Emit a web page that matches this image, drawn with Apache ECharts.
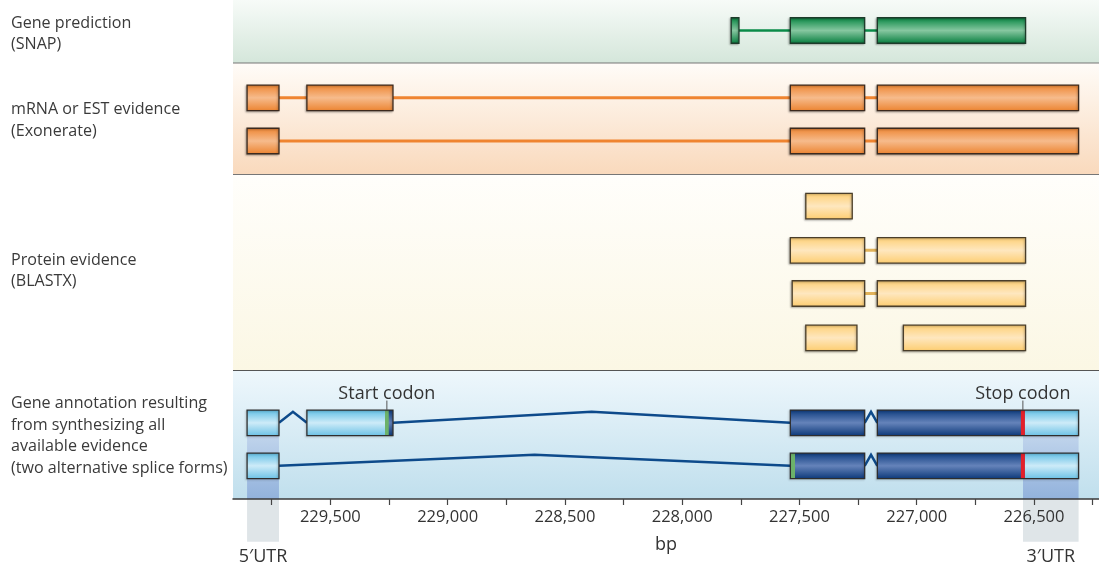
<!DOCTYPE html>
<html>
<head>
<meta charset="utf-8">
<script src="https://cdn.jsdelivr.net/npm/echarts@6/dist/echarts.min.js"></script>
<style>
html,body{margin:0;padding:0;background:#fff;}
#chart{width:1099px;height:567px;}
</style>
</head>
<body>
<div id="chart"></div>
<script>
// ---------------- DATA (bp coordinates, genome runs right-to-left) ----------------
const trackLabels = [
  'Gene prediction\n(SNAP)',
  'mRNA or EST evidence\n(Exonerate)',
  'Protein evidence\n(BLASTX)',
  'Gene annotation resulting\nfrom synthesizing all\navailable evidence\n(two alternative splice forms)'
];
// exons as [start, end] in bp
const snapExons = [[227791, 227758], [227539, 227222], [227168, 226536]];
const mrnaExons1 = [[229855, 229719], [229600, 229233], [227539, 227222], [227168, 226310]];
const mrnaExons2 = [[229855, 229719], [227539, 227222], [227168, 226310]];
const proteinHits1 = [[227473, 227275]];
const proteinHits2 = [[227539, 227222], [227168, 226536]];
const proteinHits3 = [[227531, 227222], [227168, 226536]];
const proteinHits4 = [[227473, 227255], [227057, 226536]];
const proteinLinked = [false, true, true, false];
const annotForm1 = [[229855, 229719], [229600, 229233], [227539, 227222], [227168, 226310]];
const annotForm2 = [[229855, 229719], [227539, 227222], [227168, 226310]];
const startCodons = [[229267, 229251], [227539, 227519]];
const stopCodon = [226556, 226539];
const codonLabels = ['Start codon', 'Stop codon'];
const utrRegions = [[229855, 229719], [226547, 226310]];
const utrLabels = ['5\u2032UTR', '3\u2032UTR'];
const xTickValues = [229750, 229500, 229250, 229000, 228750, 228500, 228250, 228000,
                     227750, 227500, 227250, 227000, 226750, 226500, 226250];
const xLabelValues = [229500, 229000, 228500, 228000, 227500, 227000, 226500];
const xName = 'bp';

// ---------------- LAYOUT / STYLE ----------------
const FONT = "'Open Sans', sans-serif";
const X_MIN = 226223, X_MAX = 229915;
const PANEL_Y = [[0, 63.5], [63.5, 175], [175, 371], [371, 499]];
const PANEL_FILL = [['#f7fbf8', '#d4e6da'], ['#fffcf8', '#f9d9bc'], ['#fffefb', '#fbf7e4'], ['#eef7fc', '#c0dfed']];
const LABEL_Y = [33.7, 120.5, 271, 436];
const ROW_Y = { snap: [30.5], mrna: [97.8, 141], protein: [206.2, 250.3, 293.5, 337.8], annot: [422.8, 465.8] };
const EXON_H = 25.5;
const STYLE = {
  snap: { fill: ['#03843f', '#86c7a0', '#037c3c'], stroke: '#1d3b2a', line: '#0a8b48', lineW: 2.5 },
  mrna: { fill: ['#ee8430', '#f6bb8c', '#ec832f'], stroke: '#3c2a1e', line: '#ef8430', lineW: 3 },
  protein: { fill: ['#fecf73', '#fee7bf', '#fdcd6f'], stroke: '#4a3e2a', line: '#e2b35a', lineW: 3 }
};
const LIGHT = ['#62bfe5', '#cdebf8', '#6fc3e6'];
const DARK = ['#0f3d7f', '#6583ba', '#0f3b7b'];
function grad(c) {
  return { type: 'linear', x: 0, y: 0, x2: 0, y2: 1,
    colorStops: [{ offset: 0, color: c[0] }, { offset: 0.5, color: c[1] }, { offset: 1, color: c[2] }] };
}

const evidenceTracks = [
  { exons: snapExons, yc: ROW_Y.snap[0], style: 'snap', linked: true },
  { exons: mrnaExons1, yc: ROW_Y.mrna[0], style: 'mrna', linked: true },
  { exons: mrnaExons2, yc: ROW_Y.mrna[1], style: 'mrna', linked: true },
  { exons: proteinHits1, yc: ROW_Y.protein[0], style: 'protein', linked: proteinLinked[0] },
  { exons: proteinHits2, yc: ROW_Y.protein[1], style: 'protein', linked: proteinLinked[1] },
  { exons: proteinHits3, yc: ROW_Y.protein[2], style: 'protein', linked: proteinLinked[2] },
  { exons: proteinHits4, yc: ROW_Y.protein[3], style: 'protein', linked: proteinLinked[3] }
];
const annotForms = [
  { exons: annotForm1, start: startCodons[0], yc: ROW_Y.annot[0] },
  { exons: annotForm2, start: startCodons[1], yc: ROW_Y.annot[1] }
];

function px(api, v) { return api.coord([v, 0])[0]; }
function py(api, v) { return api.coord([X_MAX, v])[1]; }
function rectOf(api, s, e, yc, h) {
  const a = px(api, s), b = px(api, e), y = py(api, yc);
  return { x: Math.min(a, b), y: y - h / 2, width: Math.abs(b - a), height: h };
}

const chart = echarts.init(document.getElementById('chart'), null, { renderer: 'canvas' });

const series = [];
// panels
series.push({
  type: 'custom', z: 1, silent: true,
  data: PANEL_Y.map((p, i) => [i]),
  renderItem(params, api) {
    const i = api.value(0); const cs = params.coordSys;
    const y0 = py(api, PANEL_Y[i][0]), y1 = py(api, PANEL_Y[i][1]);
    const ch = [{ type: 'rect', shape: { x: cs.x, y: y0, width: cs.width, height: y1 - y0 },
      style: { fill: { type: 'linear', x: 0, y: 0, x2: 0, y2: 1,
        colorStops: [{ offset: 0, color: PANEL_FILL[i][0] }, { offset: 1, color: PANEL_FILL[i][1] }] } } }];
    if (i < PANEL_Y.length - 1) {
      ch.push({ type: 'line', shape: { x1: cs.x, y1: y1, x2: cs.x + cs.width, y2: y1 },
        style: { stroke: i === 2 ? '#555555' : '#767676', lineWidth: 2 } });
    }
    return { type: 'group', children: ch };
  }
});
// UTR shading + labels
series.push({
  type: 'custom', z: 2, silent: true, clip: false,
  data: utrRegions.map((u, i) => [u[0], u[1], i]),
  renderItem(params, api) {
    const s = api.value(0), e = api.value(1), i = api.value(2);
    const a = px(api, s), b = px(api, e);
    const x = Math.min(a, b), w = Math.abs(b - a);
    const top = py(api, ROW_Y.annot[0]) + EXON_H / 2;
    const axisY = py(api, 499);
    return { type: 'group', children: [
      { type: 'rect', shape: { x, y: top, width: w, height: axisY - top },
        style: { fill: { type: 'linear', x: 0, y: 0, x2: 0, y2: 1,
          colorStops: [{ offset: 0, color: '#c0d4ec' }, { offset: 1, color: '#92b2dc' }] } } },
      { type: 'rect', shape: { x, y: axisY, width: w, height: 42.7 }, style: { fill: '#dfe5e8' } },
      { type: 'text', style: { x: x + w / 2, y: axisY + 58, text: utrLabels[i], align: 'center',
        verticalAlign: 'middle', font: '18px ' + FONT, fill: '#333333' } }
    ] };
  }
});
// evidence tracks
series.push({
  type: 'custom', z: 3, silent: true,
  data: evidenceTracks.map((t, i) => [t.exons[0][0], t.exons[t.exons.length - 1][1], i]),
  renderItem(params, api) {
    const t = evidenceTracks[api.value(2)]; const st = STYLE[t.style];
    const ch = [];
    const yc = py(api, t.yc);
    if (t.linked && t.exons.length > 1) {
      ch.push({ type: 'line', shape: { x1: px(api, api.value(0)), y1: yc, x2: px(api, api.value(1)), y2: yc },
        style: { stroke: st.line, lineWidth: st.lineW } });
    }
    t.exons.forEach(ex => {
      ch.push({ type: 'rect', shape: rectOf(api, ex[0], ex[1], t.yc, EXON_H),
        style: { fill: grad(st.fill), stroke: st.stroke, lineWidth: 1.3,
          shadowColor: 'rgba(0,0,0,0.25)', shadowBlur: 2, shadowOffsetX: -1, shadowOffsetY: 1 } });
    });
    return { type: 'group', children: ch };
  }
});
// annotation transcripts
series.push({
  type: 'custom', z: 4, silent: true,
  data: annotForms.map((f, i) => [f.exons[0][0], f.exons[f.exons.length - 1][1], i]),
  renderItem(params, api) {
    const f = annotForms[api.value(2)];
    const yc = py(api, f.yc);
    const ch = [];
    for (let k = 0; k < f.exons.length - 1; k++) {
      const e = f.exons[k][1], s = f.exons[k + 1][0];
      ch.push({ type: 'polyline', shape: { points: [[px(api, e), yc], [px(api, (e + s) / 2), yc - 11], [px(api, s), yc]] },
        style: { stroke: '#0d4a8b', lineWidth: 2.5, fill: null } });
    }
    const cdsS = f.start[0], cdsE = stopCodon[1];
    f.exons.forEach(ex => {
      const s = ex[0], e = ex[1];
      const segs = [];
      if (s > cdsS) segs.push([s, Math.max(e, cdsS), LIGHT]);
      const cs0 = Math.min(s, cdsS), ce0 = Math.max(e, cdsE);
      if (cs0 > ce0) segs.push([cs0, ce0, DARK]);
      if (e < cdsE) segs.push([Math.min(s, cdsE), e, LIGHT]);
      segs.forEach(g => {
        ch.push({ type: 'rect', shape: rectOf(api, g[0], g[1], f.yc, EXON_H), style: { fill: grad(g[2]) } });
      });
      [[f.start, '#6cb26a'], [stopCodon, '#e3202a']].forEach(c => {
        if (c[0][0] <= s && c[0][1] >= e) {
          ch.push({ type: 'rect', shape: rectOf(api, c[0][0], c[0][1], f.yc, EXON_H), style: { fill: c[1] } });
        }
      });
      ch.push({ type: 'rect', shape: rectOf(api, s, e, f.yc, EXON_H),
        style: { fill: null, stroke: '#2e2e2e', lineWidth: 1.3,
          shadowColor: 'rgba(0,0,0,0.2)', shadowBlur: 2, shadowOffsetX: -1, shadowOffsetY: 1 } });
    });
    return { type: 'group', children: ch };
  }
});
// codon labels
series.push({
  type: 'custom', z: 5, silent: true, clip: false,
  data: [[(startCodons[0][0] + startCodons[0][1]) / 2, 0], [(stopCodon[0] + stopCodon[1]) / 2, 1]],
  renderItem(params, api) {
    const x = px(api, api.value(0));
    const top = py(api, ROW_Y.annot[0]) - EXON_H / 2;
    return { type: 'group', children: [
      { type: 'line', shape: { x1: x, y1: top - 9.5, x2: x, y2: top }, style: { stroke: '#555', lineWidth: 1 } },
      { type: 'text', style: { x: x, y: top - 16, text: codonLabels[api.value(1)], align: 'center',
        verticalAlign: 'middle', font: '18px ' + FONT, fill: '#333333' } }
    ] };
  }
});

const option = {
  backgroundColor: '#ffffff',
  animation: false,
  grid: { left: 233, right: 0, top: 0, bottom: 68, containLabel: false },
  xAxis: {
    type: 'value', inverse: true, min: X_MIN, max: X_MAX, z: 10,
    name: xName, nameLocation: 'middle', nameGap: 37,
    nameTextStyle: { fontSize: 18, fontFamily: FONT, color: '#333333' },
    axisLine: { show: true, onZero: false, lineStyle: { color: '#3a3a3a', width: 1.5 } },
    axisTick: { show: true, length: 6, customValues: xTickValues, lineStyle: { color: '#444444', width: 1.2 } },
    axisLabel: { customValues: xLabelValues, margin: 10, fontSize: 16.5, fontFamily: FONT, color: '#333333',
      formatter: v => Number(v).toLocaleString('en-US') },
    splitLine: { show: false }
  },
  yAxis: { type: 'value', inverse: true, min: 0, max: 499, show: false },
  graphic: trackLabels.map((t, i) => ({
    type: 'text', x: 11, y: LABEL_Y[i], silent: true,
    style: { text: t, font: '16.1px ' + FONT, fill: '#3a3a3a', lineHeight: 21.5, verticalAlign: 'middle', align: 'left' }
  })),
  series
};
chart.setOption(option);
</script>
</body>
</html>
